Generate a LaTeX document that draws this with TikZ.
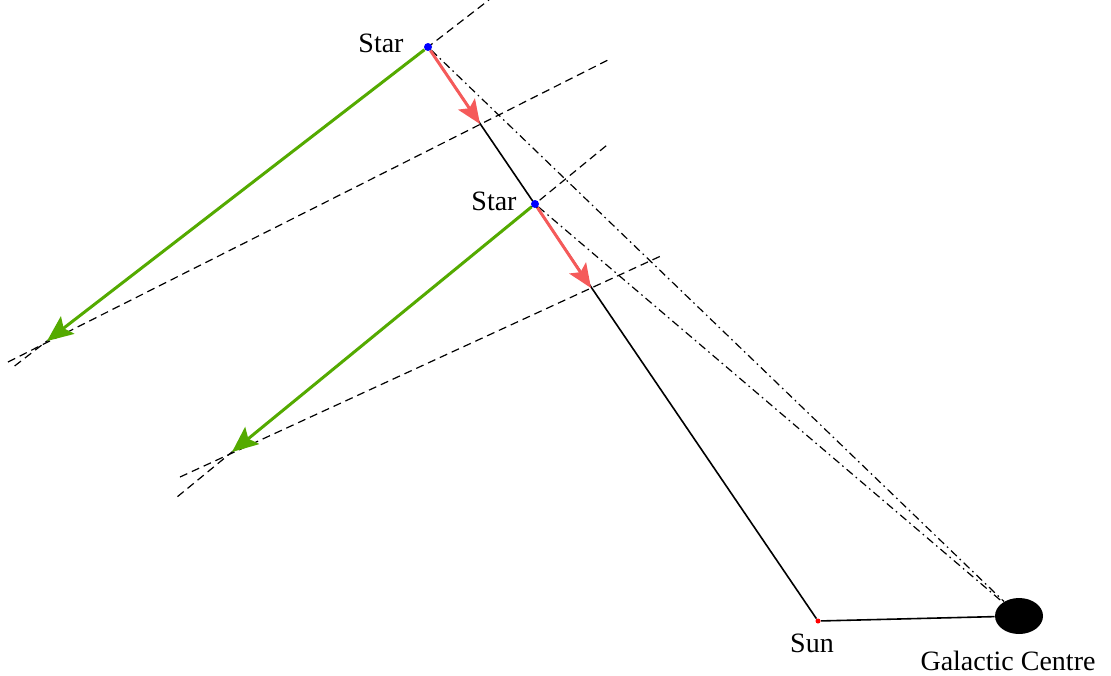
\documentclass[tikz,border=0pt]{standalone}
\usepackage{fontspec}
\setmainfont{Liberation Serif}
\usetikzlibrary{arrows.meta,shapes.geometric,backgrounds,calc}
\definecolor{vgreen}{RGB}{84,170,0}
\definecolor{vred}{RGB}{245,90,90}

\begin{document}
\begin{tikzpicture}[x=0.5pt, y=-0.5pt,
    lbl/.style={font=\fontsize{14}{16}\selectfont, inner sep=0pt, anchor=base},
    stardot/.style={circle, fill=blue, inner sep=0pt, minimum size=4pt},
    sundot/.style={circle, fill=red, inner sep=0pt, minimum size=2.5pt},
    gcblob/.style={ellipse, fill=black, inner sep=0pt, minimum width=24pt, minimum height=18pt},
    guide/.style={line width=0.6pt, dash pattern=on 4pt off 2.5pt},
    sightline/.style={line width=0.6pt, dash pattern=on 4pt off 2pt on 0.8pt off 2pt},
    radial/.style={vred, line width=1.5pt, -{Stealth[length=12pt,width=10pt,inset=2.5pt]}},
    tangential/.style={vgreen, line width=1.5pt, -{Stealth[length=13pt,width=11pt,inset=2.5pt]}}]
      \useasboundingbox (0,0) rectangle (1111,675);

      % Bodies
      \node[stardot] (star1) at (428,47) {};
      \node[stardot] (star2) at (535,204) {};
      \node[sundot] (sun) at (818,621) {};
      \node[gcblob] (gc) at (1019,616) {};

      \node[lbl] (lstar1) at (381,52) {Star};
      \node[lbl] (lstar2) at (494,210) {Star};
      \node[lbl] (lsun) at (812,652) {Sun};
      \node[lbl] (lgc) at (1008,670) {Galactic Centre};

      % Velocity tips and guide ends
      \coordinate (v1) at (480,124);
      \coordinate (v2) at (591,288);
      \coordinate (g1) at (47,341);
      \coordinate (g2) at (232,452);
      \coordinate (t1a) at ($(star1.center)!1.085!(g1)$);
      \coordinate (t1b) at ($(star1.center)!-0.16!(g1)$);
      \coordinate (r1a) at (8,362);
      \coordinate (r1b) at (608,60);
      \coordinate (t2a) at ($(star2.center)!1.18!(g2)$);
      \coordinate (t2b) at ($(star2.center)!-0.24!(g2)$);
      \coordinate (r2a) at (180,477);
      \coordinate (r2b) at (663,255);

      % Construction lines
      \begin{scope}[on background layer]
        \draw[guide] (t1a) -- (t1b);
        \draw[guide] (r1a) -- (r1b);
        \draw[guide] (t2a) -- (t2b);
        \draw[guide] (r2a) -- (r2b);
        \draw[sightline] (star1) -- (gc);
        \draw[sightline] (star2) -- (gc);
        \draw[line width=0.8pt] (star1) -- (sun);
        \draw[line width=0.8pt] (sun) -- (gc);
      \end{scope}

      % Velocity components
      \draw[radial] (star1) -- (v1);
      \draw[radial] (star2) -- (v2);
      \draw[tangential] (star1) -- (g1);
      \draw[tangential] (star2) -- (g2);
    \end{tikzpicture}
\end{document}
